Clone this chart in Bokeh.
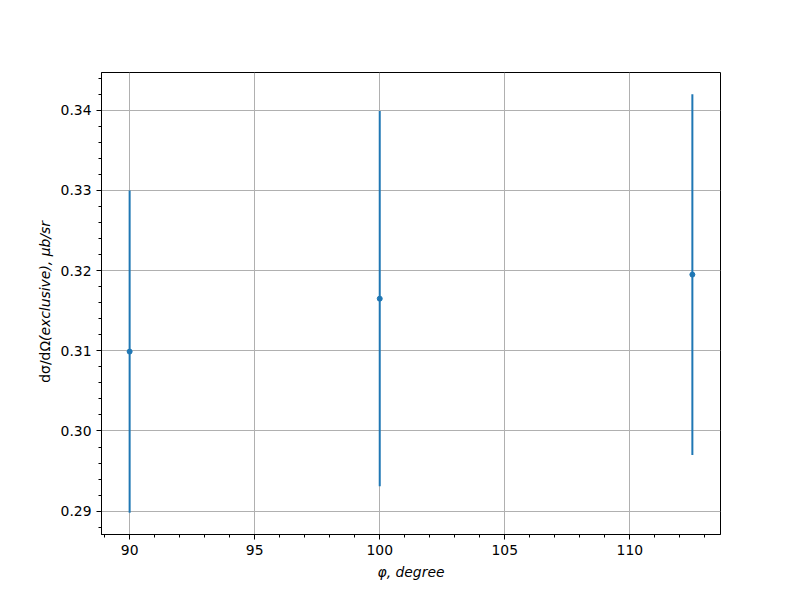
import math
from bokeh.plotting import figure
from bokeh.layouts import row
from bokeh.models import Range1d, SingleIntervalTicker, ColumnDataSource, PrintfTickFormatter
from bokeh.core.properties import value
from bokeh.embed import file_html
from bokeh.resources import INLINE

# data
phi = [90.0, 100.0, 112.5]
xsec = [0.3099, 0.3165, 0.3195]
err = [0.0201, 0.0234, 0.0225]

x_label = "φ, degree"
y_label_upright = "dσ/dΩ"
y_label_italic = "(exclusive), μb/sr"

lower = [v - e for v, e in zip(xsec, err)]
upper = [v + e for v, e in zip(xsec, err)]
src = ColumnDataSource(dict(x=phi, y=xsec, lo=lower, hi=upper))

FONT = "DejaVu Sans"
FS = "13.9px"
W, H = 792, 592
LW = 54  # width of the strip holding the y label
FL, FR, FT, FB = 101, 720, 72, 534  # frame edges on page

# ---- label strip ----
lab = figure(width=LW, height=H, output_backend="svg", toolbar_location=None,
             x_range=Range1d(0, LW), y_range=Range1d(0, H),
             min_border=0, min_border_left=0, min_border_right=0, min_border_top=0, min_border_bottom=0,
             background_fill_color="white", border_fill_color="white")
lab.axis.visible = False
lab.grid.visible = False
lab.outline_line_color = None
ly = H - 344
lab.text(x=[44], y=[ly], text=[y_label_upright], angle=math.pi / 2,
         text_align="right", text_baseline="middle",
         text_font=value(FONT), text_font_size=value(FS), text_color="black")
lab.text(x=[44], y=[ly], text=[y_label_italic], angle=math.pi / 2,
         text_align="left", text_baseline="middle",
         text_font=value(FONT), text_font_size=value(FS), text_font_style=value("italic"), text_color="black")

# ---- main plot ----
p = figure(width=W - LW, height=H, output_backend="svg", toolbar_location=None,
           x_range=Range1d(88.875, 113.625), y_range=Range1d(0.28709, 0.3447),
           min_border_left=FL - LW, min_border_right=W - FR, min_border_top=FT, min_border_bottom=H - FB,
           background_fill_color="white", border_fill_color="white")

p.outline_line_color = "black"
p.outline_line_width = 1
p.outline_line_alpha = 1

p.xaxis.ticker = SingleIntervalTicker(interval=5, num_minor_ticks=5)
p.yaxis.ticker = SingleIntervalTicker(interval=0.01, num_minor_ticks=5)
p.yaxis.formatter = PrintfTickFormatter(format="%.2f")

for ax in (p.xaxis[0], p.yaxis[0]):
    ax.axis_line_color = "black"
    ax.axis_line_width = 1
    ax.major_tick_line_color = "black"
    ax.minor_tick_line_color = "black"
    ax.major_tick_line_width = 1
    ax.minor_tick_line_width = 1
    ax.major_tick_out = 5
    ax.major_tick_in = 0
    ax.minor_tick_out = 3
    ax.minor_tick_in = 0
    ax.major_label_text_font = FONT
    ax.major_label_text_font_size = FS
    ax.major_label_text_color = "black"
    ax.major_label_standoff = 5

p.xaxis.axis_label = x_label
p.xaxis.axis_label_text_font = FONT
p.xaxis.axis_label_text_font_size = FS
p.xaxis.axis_label_text_font_style = "italic"
p.xaxis.axis_label_text_color = "black"
p.xaxis.axis_label_standoff = 6

for g in (p.xgrid[0], p.ygrid[0]):
    g.grid_line_color = "#b0b0b0"
    g.grid_line_width = 1

p.segment(x0="x", y0="lo", x1="x", y1="hi", source=src, line_color="#1f77b4", line_width=2)
p.scatter(x="x", y="y", source=src, size=5, fill_color="#1f77b4", line_color="#1f77b4")

layout = row(lab, p, spacing=0)
open("out.html", "w").write(file_html(layout, INLINE))
